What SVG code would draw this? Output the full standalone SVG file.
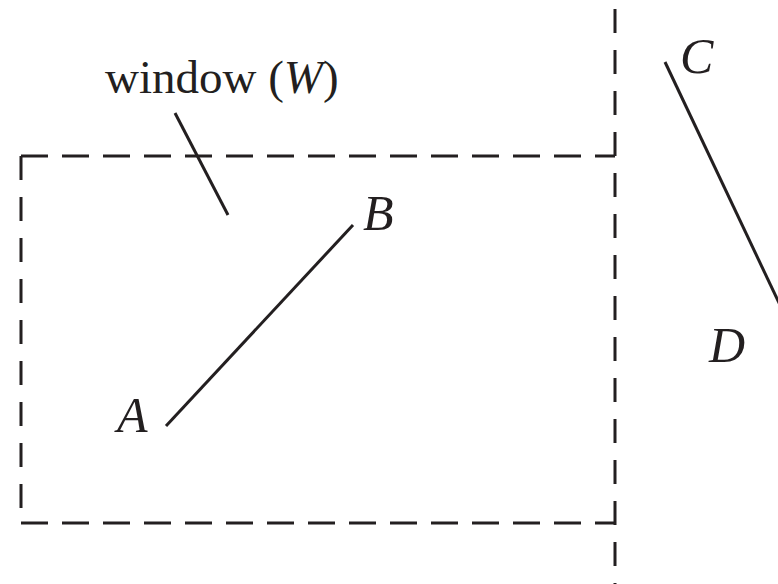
<svg xmlns="http://www.w3.org/2000/svg" width="778" height="584" viewBox="0 0 778 584">
<style>
.dash{stroke:#231f20;stroke-width:3;fill:none;stroke-dasharray:27 14}
.vdash{stroke:#231f20;stroke-width:3;fill:none;stroke-dasharray:24 17}
.seg{stroke:#231f20;stroke-width:3;fill:none}
.lbl{font-family:"Liberation Serif","Times New Roman",serif;font-size:50px;fill:#231f20}
.it{font-style:italic}
</style>
<g id="window">
<line class="dash" x1="21" y1="156" x2="615" y2="156"/>
<line class="dash" x1="21" y1="523" x2="615" y2="523"/>
<line class="vdash" x1="21" y1="156" x2="21" y2="523"/>
</g>
<g id="boundary">
<line class="vdash" x1="615" y1="9" x2="615" y2="584"/>
</g>
<g id="connectors">
<line id="leader" class="seg" x1="175" y1="113" x2="228" y2="215"/>
<line id="AB" class="seg" x1="166" y1="426" x2="353" y2="225"/>
<line id="CD" class="seg" x1="665" y1="62" x2="780" y2="305"/>
</g>
<g id="labels">
<text class="lbl" x="105" y="93" style="font-size:47px">window (<tspan class="it">W</tspan>)</text>
<text class="lbl it" x="117" y="432">A</text>
<text class="lbl it" x="363" y="230">B</text>
<text class="lbl it" x="680" y="73">C</text>
<text class="lbl it" x="709" y="362">D</text>
</g>
</svg>
